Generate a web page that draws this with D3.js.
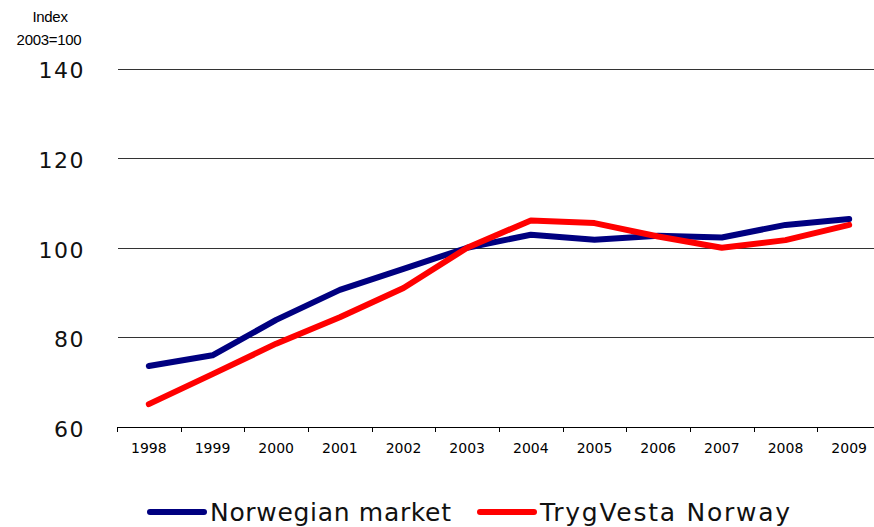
<!DOCTYPE html>
<html>
<head>
    <title>Index 2003=100 - Norwegian market vs TrygVesta Norway</title>
    <script src="https://cdn.jsdelivr.net/npm/d3@7"></script>
    <style>
        body {
            margin: 0;
            background-color: white;
            font-family: "DejaVu Sans", Verdana, sans-serif;
        }
        svg { display: block; }
    </style>
</head>
<body>
    <div id="chart"></div>

    <script>
        const years = ["1998", "1999", "2000", "2001", "2002", "2003", "2004", "2005", "2006", "2007", "2008", "2009"];
        const norwegianMarket = [73.6, 76.0, 83.9, 90.6, 95.3, 100, 102.9, 101.8, 102.7, 102.3, 105.1, 106.4];
        const trygVesta = [65.1, 71.8, 78.6, 84.5, 91.0, 100, 106.1, 105.5, 102.5, 100.0, 101.7, 105.1];
        const yTicks = [60, 80, 100, 120, 140];

        const series = [
            { name: "Norwegian market", values: norwegianMarket, color: "#000080" },
            { name: "TrygVesta Norway", values: trygVesta, color: "#ff0000" }
        ];

        const W = 874, H = 527;

        const svg = d3.select("#chart")
            .append("svg")
            .attr("width", W)
            .attr("height", H);

        const x = d3.scaleBand()
            .domain(years)
            .range([117, 881])
            .padding(0);

        const y = d3.scaleLinear()
            .domain([60, 140])
            .range([427, 68.5]);

        // Axis title
        svg.append("text")
            .attr("x", 50).attr("y", 22)
            .attr("text-anchor", "middle")
            .style("font-family", "Liberation Sans, Arial, sans-serif")
            .style("font-size", "15px")
            .style("letter-spacing", "-0.3px")
            .text("Index");
        svg.append("text")
            .attr("x", 49).attr("y", 45)
            .attr("text-anchor", "middle")
            .style("font-family", "Liberation Sans, Arial, sans-serif")
            .style("font-size", "15px")
            .style("letter-spacing", "-0.3px")
            .text("2003=100");

        // Grid lines
        svg.append("g")
            .selectAll("line")
            .data(yTicks.filter(d => d > 60))
            .enter()
            .append("line")
            .attr("x1", 118).attr("x2", W)
            .attr("y1", d => Math.round(y(d)) + 0.5)
            .attr("y2", d => Math.round(y(d)) + 0.5)
            .attr("stroke", "#333")
            .attr("stroke-width", 1);

        // Y labels
        svg.append("g")
            .selectAll("text")
            .data(yTicks)
            .enter()
            .append("text")
            .attr("x", 85)
            .attr("y", d => y(d) + 2)
            .attr("dy", "0.36em")
            .attr("text-anchor", "end")
            .attr("fill", "#111")
            .style("font-size", "22px")
            .style("letter-spacing", "1.5px")
            .text(d => d);

        // X axis
        const xAxis = svg.append("g")
            .attr("transform", `translate(0,${Math.round(y(60)) + 0.5})`)
            .call(d3.axisBottom(x).tickSize(0).tickPadding(16));
        xAxis.select(".domain").attr("stroke", "#000").attr("d", `M117,0H${W}`);
        xAxis.selectAll("text")
            .style("font-family", "DejaVu Sans, Verdana, sans-serif")
            .style("font-size", "14px")
            .attr("fill", "#000");
        xAxis.selectAll(".tick line").remove();

        // tick marks between categories
        svg.append("g")
            .selectAll("line")
            .data(years)
            .enter()
            .append("line")
            .attr("x1", d => Math.round(x(d)) + 0.5)
            .attr("x2", d => Math.round(x(d)) + 0.5)
            .attr("y1", Math.round(y(60)))
            .attr("y2", Math.round(y(60)) + 5)
            .attr("stroke", "#000");

        // Lines
        const line = d3.line()
            .x((d, i) => x(years[i]) + x.bandwidth() / 2)
            .y(d => y(d));

        svg.append("g")
            .selectAll("path")
            .data(series)
            .enter()
            .append("path")
            .attr("d", d => line(d.values))
            .attr("fill", "none")
            .attr("stroke", d => d.color)
            .attr("stroke-width", 6)
            .attr("stroke-linejoin", "round")
            .attr("stroke-linecap", "round");

        // Legend
        const legendX = [150, 480];
        const legendTextLen = [241, 250];
        const legend = svg.append("g")
            .selectAll("g")
            .data(series)
            .enter()
            .append("g")
            .attr("transform", (d, i) => `translate(${legendX[i]},512)`);
        legend.append("line")
            .attr("x1", 0).attr("x2", 54)
            .attr("stroke", d => d.color)
            .attr("stroke-width", 6)
            .attr("stroke-linecap", "round");
        legend.append("text")
            .attr("x", 60)
            .attr("dy", "0.36em")
            .attr("textLength", (d, i) => legendTextLen[i])
            .attr("lengthAdjust", "spacing")
            .attr("fill", "#111")
            .style("font-size", "25px")
            .text(d => d.name);
    </script>
</body>
</html>
